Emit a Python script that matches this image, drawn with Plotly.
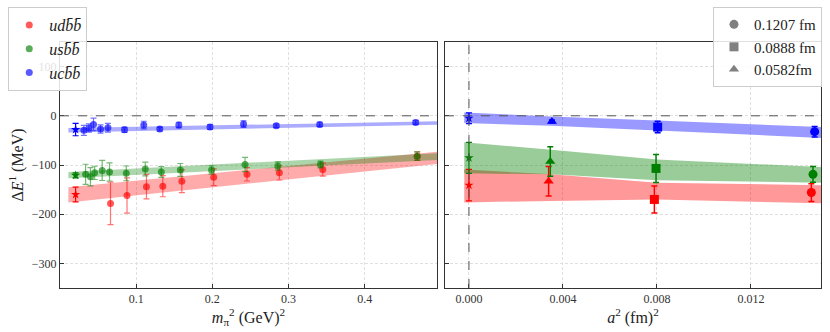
import plotly.graph_objects as go

# ---------------- data: left panel (vs m_pi^2) ----------------
phys_mpi2 = [0.0205]
ud_star_E, ud_star_err = [-160], [15]
us_star_E, us_star_err = [-121], [5]
uc_star_E, uc_star_err = [-28], [12.5]

ud_mpi2 = [0.0663, 0.088, 0.1135, 0.135, 0.160, 0.2018, 0.2455, 0.288, 0.345, 0.469]
ud_E = [-178, -162, -144, -143, -133, -125, -119, -116, -109, -82]
ud_err = [43, 36, 25, 21.5, 23, 17, 13.5, 14.5, 13.5, 8.7]

us_mpi2 = [0.0336, 0.040, 0.0455, 0.0554, 0.065, 0.087, 0.112, 0.133, 0.158, 0.199, 0.243, 0.286, 0.342, 0.469]
us_E = [-119, -124, -116, -111, -114, -117, -108, -114, -110, -110, -99, -102, -99, -82]
us_err = [20.5, 18.5, 13.5, 20.5, 18.5, 15, 14, 11, 13, 8.5, 14.5, 8.5, 6.7, 8.7]

uc_mpi2 = [0.0314, 0.038, 0.044, 0.0532, 0.0629, 0.0847, 0.110, 0.131, 0.156, 0.197, 0.241, 0.284, 0.341, 0.467]
uc_E = [-29.6, -24.9, -17.5, -27, -24.2, -28.3, -18.8, -27, -18.8, -22.8, -16.8, -20.2, -17.5, -13.5]
uc_err = [10, 8.4, 12.8, 8.4, 9, 5.4, 7.7, 4, 5.7, 5, 6.7, 4, 4.4, 4]

# chiral fit bands (upper / lower edges)
band_mpi2 = [0.011, 0.495]
ud_band_hi, ud_band_lo = [-145, -73], [-176, -98]
us_band_hi, us_band_lo = [-114, -76], [-127, -90]
uc_band_hi, uc_band_lo = [-25, -11], [-34, -18]

# ---------------- data: right panel (vs a^2) ----------------
a2_vals = [0.01457, 0.00789, 0.00339]      # 0.1207, 0.0888, 0.0582 fm
a2_phys = [0.0]
ud_a_E, ud_a_err = [-156, -170, -133], [18, 27.5, 30]
us_a_E, us_a_err = [-119, -107, -93], [16, 28.5, 30]
uc_a_E, uc_a_err = [-32.3, -22.9, -11.4], [10.8, 11.7, 3]
ud_a0_E, ud_a0_err = [-141], [32]
us_a0_E, us_a0_err = [-85.5], [31.6]
uc_a0_E, uc_a0_err = [-5], [10.8]

band_a2 = [-0.0002, 0.0035, 0.008, 0.0150]
ud_aband_hi = [-109, -119, -136, -141]
ud_aband_lo = [-176, -173, -170, -178]
us_aband_hi = [-54, -69, -89, -104]
us_aband_lo = [-117, -119, -131, -136]
uc_aband_hi = [6.7, -1.3, -9.4, -23]
uc_aband_lo = [-14.8, -20.2, -29.6, -45]

series_names = ["<i>udb̄b̄</i>", "<i>usb̄b̄</i>", "<i>ucb̄b̄</i>"]
spacing_names = ["0.1207 fm", "0.0888 fm", "0.0582fm"]
x_shift = [0.0, 0.00007, 0.00014]   # small horizontal offsets to separate points

RGB = {"r": (255, 0, 0), "g": (0, 128, 0), "b": (0, 0, 255)}
def rgba(c, a):
    r, g, b = RGB[c]
    return f"rgba({r},{g},{b},{a})"

FONT = "Liberation Serif, DejaVu Serif, serif"
fig = go.Figure()

left = [
    ("r", ud_mpi2, ud_E, ud_err, ud_star_E, ud_star_err, ud_band_hi, ud_band_lo),
    ("g", us_mpi2, us_E, us_err, us_star_E, us_star_err, us_band_hi, us_band_lo),
    ("b", uc_mpi2, uc_E, uc_err, uc_star_E, uc_star_err, uc_band_hi, uc_band_lo),
]
for i, (c, xs, ys, es, sy, se, bh, bl) in enumerate(left):
    fig.add_trace(go.Scatter(x=band_mpi2 + band_mpi2[::-1], y=bh + bl[::-1], fill="toself",
                             fillcolor=rgba(c, 0.33), line=dict(width=0), mode="lines",
                             hoverinfo="skip", showlegend=False, xaxis="x", yaxis="y"))
for i, (c, xs, ys, es, sy, se, bh, bl) in enumerate(left):
    fig.add_trace(go.Scatter(x=xs, y=ys, mode="markers", name=series_names[i],
                             marker=dict(symbol="circle", size=7, color=rgba(c, 0.65)),
                             error_y=dict(type="data", array=es, color=rgba(c, 0.55), thickness=1.2, width=3),
                             legend="legend", xaxis="x", yaxis="y"))
    fig.add_trace(go.Scatter(x=phys_mpi2, y=sy, mode="markers", showlegend=False,
                             marker=dict(symbol="star", size=7, color=rgba(c, 1)),
                             error_y=dict(type="data", array=se, color=rgba(c, 1), thickness=1.2, width=3),
                             xaxis="x", yaxis="y"))

right = [
    ("r", ud_a_E, ud_a_err, ud_a0_E, ud_a0_err, ud_aband_hi, ud_aband_lo),
    ("g", us_a_E, us_a_err, us_a0_E, us_a0_err, us_aband_hi, us_aband_lo),
    ("b", uc_a_E, uc_a_err, uc_a0_E, uc_a0_err, uc_aband_hi, uc_aband_lo),
]
symbols = ["circle", "square", "triangle-up"]
for i, (c, ys, es, y0, e0, bh, bl) in enumerate(right):
    fig.add_trace(go.Scatter(x=band_a2 + band_a2[::-1], y=bh + bl[::-1], fill="toself",
                             fillcolor=rgba(c, 0.4), line=dict(width=0), mode="lines",
                             hoverinfo="skip", showlegend=False, xaxis="x2", yaxis="y2"))
for i, (c, ys, es, y0, e0, bh, bl) in enumerate(right):
    for j in range(3):
        fig.add_trace(go.Scatter(x=[a2_vals[j] + x_shift[i]], y=[ys[j]], mode="markers", showlegend=False,
                                 marker=dict(symbol=symbols[j], size=9, color=rgba(c, 1)),
                                 error_y=dict(type="data", array=[es[j]], color=rgba(c, 1), thickness=1.5, width=3),
                                 xaxis="x2", yaxis="y2"))
    fig.add_trace(go.Scatter(x=a2_phys, y=y0, mode="markers", showlegend=False,
                             marker=dict(symbol="star", size=7, color=rgba(c, 1)),
                             error_y=dict(type="data", array=e0, color=rgba(c, 1), thickness=1.2, width=3),
                             xaxis="x2", yaxis="y2"))

# legend entries for lattice spacings
for j in range(3):
    fig.add_trace(go.Scatter(x=[None], y=[None], mode="markers", name=spacing_names[j],
                             marker=dict(symbol=symbols[j], size=9, color="gray"),
                             error_y=dict(type="data", array=[1], color="gray"),
                             legend="legend2", xaxis="x2", yaxis="y2"))

axis_common = dict(showline=True, linecolor="#333", linewidth=1, mirror=True, ticks="inside",
                   ticklen=4, tickcolor="#333", showgrid=True, gridcolor="#e0e0e0", griddash="3px,2px",
                   gridwidth=1, zeroline=False, tickfont=dict(family=FONT, size=12, color="#333"))

fig.update_layout(
    width=830, height=332,
    margin=dict(l=60, r=9, t=42, b=44, autoexpand=False),
    paper_bgcolor="white", plot_bgcolor="white",
    font=dict(family=FONT, color="#222"),
    hovermode=False,
    xaxis=dict(domain=[0, 0.4954], range=[0.0, 0.495], tickvals=[0.1, 0.2, 0.3, 0.4],
               ticktext=["0.1", "0.2", "0.3", "0.4"],
               title=dict(text="<i>m</i><sub>π</sub><sup>2</sup> (GeV)<sup>2</sup>", font=dict(size=16), standoff=2),
               **axis_common),
    yaxis=dict(range=[-350, 150], tickvals=[-300, -200, -100, 0, 100],
               ticktext=["−300", "−200", "−100", "0", "100"],
               title=dict(text="Δ<i>E</i><sup>1</sup> (MeV)", font=dict(size=16), standoff=4),
               **axis_common),
    xaxis2=dict(domain=[0.5059, 1], range=[-0.00102, 0.01498], tickvals=[0.0, 0.004, 0.008, 0.012],
                ticktext=["0.000", "0.004", "0.008", "0.012"],
                title=dict(text="<i>a</i><sup>2</sup> (fm)<sup>2</sup>", font=dict(size=16), standoff=2),
                anchor="y2", **axis_common),
    yaxis2=dict(range=[-350, 150], tickvals=[-300, -200, -100, 0, 100], showticklabels=False,
                anchor="x2", matches="y", **axis_common),
    legend=dict(x=-0.068, y=1.142, xanchor="left", yanchor="top", bgcolor="rgba(255,255,255,0.85)",
                bordercolor="#cccccc", borderwidth=1, font=dict(family=FONT, size=16),
                tracegroupgap=0, itemwidth=30),
    legend2=dict(x=1.0013, y=1.142, xanchor="right", yanchor="top", bgcolor="rgba(255,255,255,0.85)",
                 bordercolor="#cccccc", borderwidth=1, font=dict(family=FONT, size=15),
                 tracegroupgap=0, itemwidth=30),
    shapes=[
        dict(type="line", xref="x domain", yref="y", x0=0, x1=1, y0=0, y1=0,
             line=dict(color="#555", width=1, dash="dash")),
        dict(type="line", xref="x2 domain", yref="y2", x0=0, x1=1, y0=0, y1=0,
             line=dict(color="#555", width=1, dash="dash")),
        dict(type="line", xref="x2", yref="y2 domain", x0=0, x1=0, y0=0, y1=1,
             line=dict(color="#555", width=1, dash="dash")),
    ],
)

fig.write_html("out.html", config={"displayModeBar": False})

# remove the browser's default 8px body margin so the figure sits at the page origin
with open("out.html", "r", encoding="utf-8") as f:
    html = f.read()
html = html.replace("<head>", "<head><style>html,body{margin:0;padding:0;overflow:hidden;}</style>", 1)
with open("out.html", "w", encoding="utf-8") as f:
    f.write(html)
